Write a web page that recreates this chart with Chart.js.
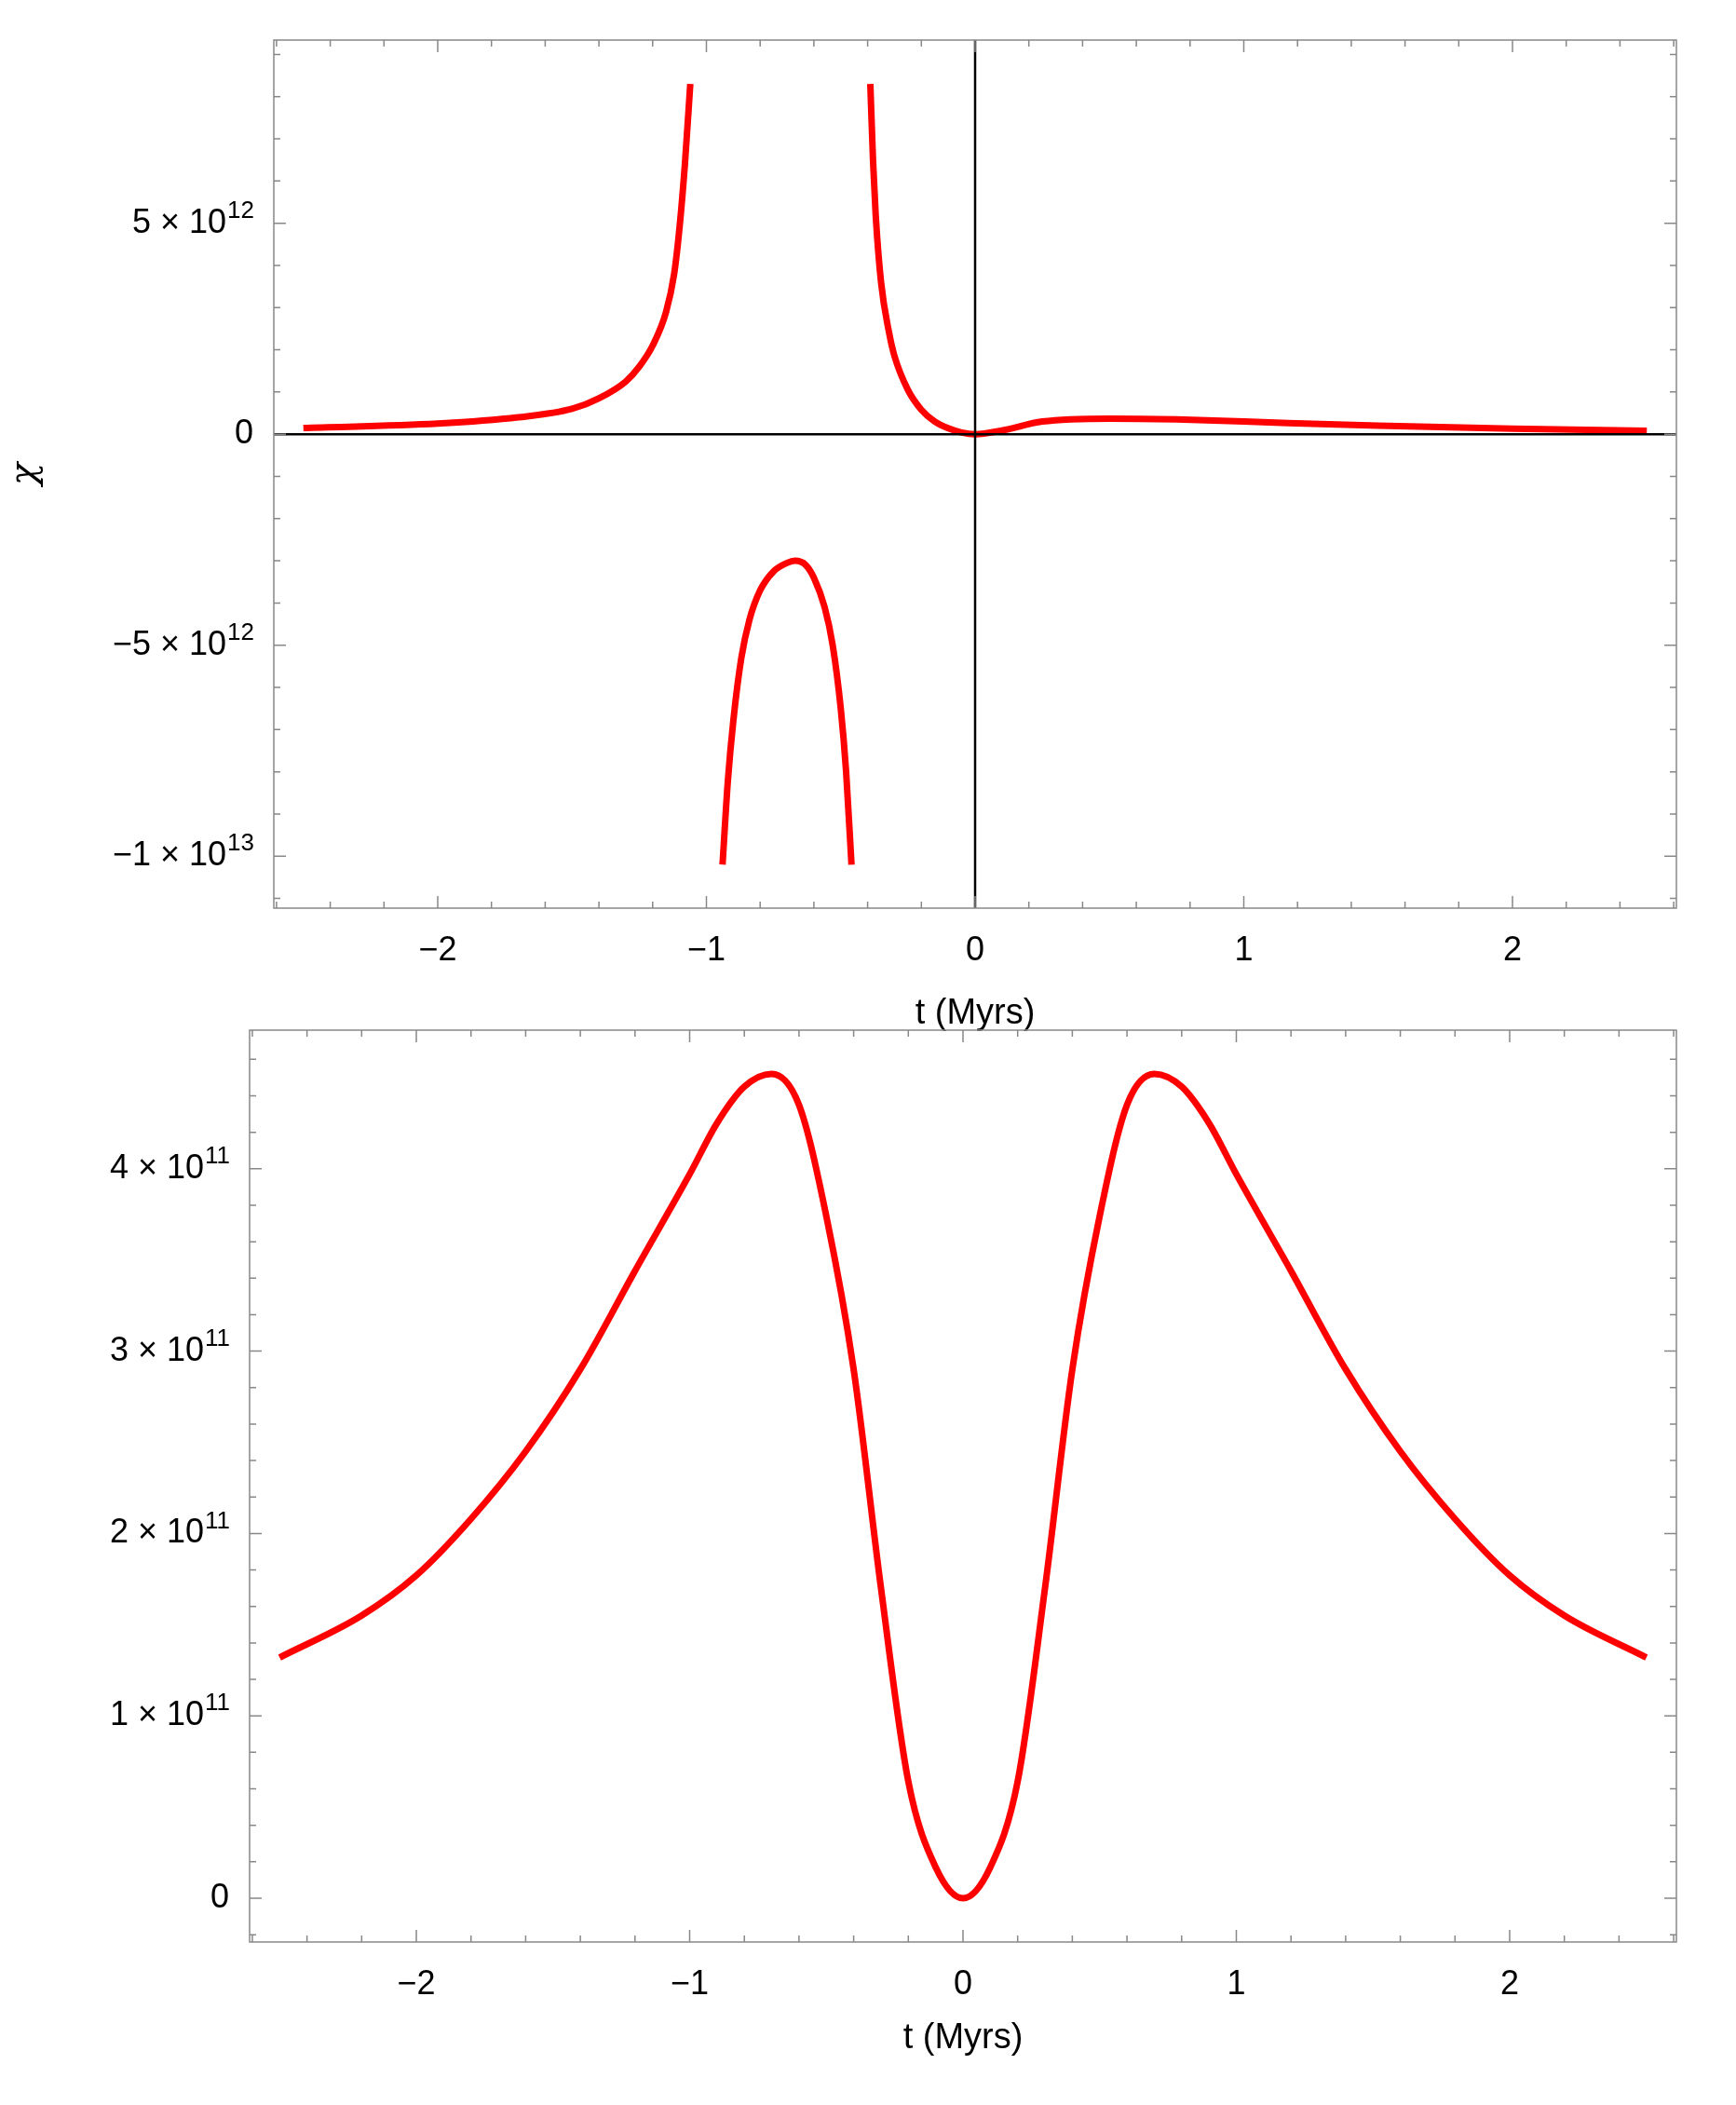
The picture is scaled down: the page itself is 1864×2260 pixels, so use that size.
<!DOCTYPE html>
<html>
<head>
<meta charset="utf-8">
<script src="https://cdn.jsdelivr.net/npm/chart.js@4.4.1/dist/chart.umd.min.js"></script>
<style>
  body { margin: 0; background: #fff; width: 1864px; height: 2260px; position: relative; }
  .box { position: absolute; left: 0; width: 1864px; }
</style>
</head>
<body>
<div class="box" style="top:0;height:1115px"><canvas id="top"></canvas></div>
<div class="box" style="top:1099px;height:1116px"><canvas id="bottom"></canvas></div>
<script>
// --- top panel: chi(t), three branches split by poles ---
const leftT   = [-2.5, -2.0, -1.7, -1.5, -1.4, -1.3, -1.25, -1.2, -1.15, -1.12, -1.1, -1.08, -1.06];
const leftChi = [0.15e12, 0.25e12, 0.4e12, 0.6e12, 0.85e12, 1.25e12, 1.6e12, 2.1e12, 2.9e12, 3.8e12, 4.9e12, 6.4e12, 8.3e12];
const midT    = [-0.94, -0.92, -0.9, -0.87, -0.84, -0.8, -0.75, -0.7, -0.67, -0.63, -0.6, -0.56, -0.53, -0.5, -0.48, -0.46];
const midChi  = [-10.2e12, -8.2e12, -6.8e12, -5.3e12, -4.4e12, -3.7e12, -3.25e12, -3.05e12, -3.0e12, -3.1e12, -3.4e12, -4.1e12, -5.0e12, -6.5e12, -8.0e12, -10.2e12];
const rightT  = [-0.39, -0.38, -0.37, -0.35, -0.32, -0.3, -0.25, -0.2, -0.15, -0.1, -0.05, 0, 0.1, 0.25, 0.5, 0.75, 1.0, 1.5, 2.0, 2.5];
const rightChi= [8.3e12, 6.5e12, 5.2e12, 3.6e12, 2.4e12, 1.85e12, 1.05e12, 0.58e12, 0.3e12, 0.14e12, 0.04e12, 0, 0.09e12, 0.3e12, 0.37e12, 0.35e12, 0.3e12, 0.2e12, 0.13e12, 0.08e12];

// --- bottom panel ---
const botT = [-2.5, -2.2, -2.0, -1.8, -1.6, -1.4, -1.2, -1.0, -0.9, -0.8, -0.7, -0.6, -0.5, -0.4, -0.3, -0.2, -0.1, 0,
              0.1, 0.2, 0.3, 0.4, 0.5, 0.6, 0.7, 0.8, 0.9, 1.0, 1.2, 1.4, 1.6, 1.8, 2.0, 2.2, 2.5];
const botY = [1.32e11, 1.55e11, 1.77e11, 2.08e11, 2.45e11, 2.9e11, 3.44e11, 3.97e11, 4.25e11, 4.45e11, 4.52e11, 4.35e11, 3.74e11, 2.9e11, 1.7e11, 0.64e11, 0.17e11, 0,
              0.17e11, 0.64e11, 1.7e11, 2.9e11, 3.74e11, 4.35e11, 4.52e11, 4.45e11, 4.25e11, 3.97e11, 3.44e11, 2.9e11, 2.45e11, 2.08e11, 1.77e11, 1.55e11, 1.32e11];

const xTicks = [-2, -1, 0, 1, 2];
// y tick labels as [mantissa, exponent]
const topYTicks = [-1e13, -5e12, 0, 5e12];
const topYLabels = [['\u22121 \u00d7 10', '13'], ['\u22125 \u00d7 10', '12'], ['0', ''], ['5 \u00d7 10', '12']];
const botYTicks = [0, 1e11, 2e11, 3e11, 4e11];
const botYLabels = [['0', ''], ['1 \u00d7 10', '11'], ['2 \u00d7 10', '11'], ['3 \u00d7 10', '11'], ['4 \u00d7 10', '11']];

const pts = (xs, ys) => xs.map((x, i) => ({ x: x, y: ys[i] }));
const FAM = 'Liberation Sans, Arial, sans-serif';
const font = { family: FAM, size: 36 };

function frameTicks(xMinor, yMinor, axes, yTicks, yLabels) {
  return {
    id: 'frameTicks',
    afterDatasetsDraw(chart) {
      const { ctx, chartArea: a, scales } = chart;
      const xs = scales.x, ys = scales.y;
      ctx.save();
      if (axes) {
        ctx.strokeStyle = '#000'; ctx.lineWidth = 2.5;
        const x0 = xs.getPixelForValue(0), y0 = ys.getPixelForValue(0);
        ctx.beginPath();
        ctx.moveTo(x0, a.top); ctx.lineTo(x0, a.bottom);
        ctx.moveTo(a.left, y0); ctx.lineTo(a.right, y0);
        ctx.stroke();
      }
      ctx.strokeStyle = '#888'; ctx.lineWidth = 1.5;
      ctx.strokeRect(a.left, a.top, a.right - a.left, a.bottom - a.top);
      ctx.beginPath();
      for (let i = Math.ceil(xs.min / xMinor); i * xMinor <= xs.max; i++) {
        const v = i * xMinor, p = xs.getPixelForValue(v);
        const len = Math.abs(v - Math.round(v)) < 1e-9 ? 13 : 7;
        ctx.moveTo(p, a.bottom); ctx.lineTo(p, a.bottom - len);
        ctx.moveTo(p, a.top); ctx.lineTo(p, a.top + len);
      }
      for (let i = Math.ceil(ys.min / yMinor); i * yMinor <= ys.max; i++) {
        const v = i * yMinor, p = ys.getPixelForValue(v);
        const len = (i % 5 === 0) ? 13 : 7;
        ctx.moveTo(a.left, p); ctx.lineTo(a.left + len, p);
        ctx.moveTo(a.right, p); ctx.lineTo(a.right - len, p);
      }
      ctx.stroke();
      // y tick labels with superscript exponents
      ctx.fillStyle = '#000'; ctx.textBaseline = 'middle'; ctx.textAlign = 'left';
      yTicks.forEach((v, i) => {
        const [m, e] = yLabels[i];
        const p = ys.getPixelForValue(v);
        ctx.font = '26px ' + FAM;
        const ew = e ? ctx.measureText(e).width : 0;
        ctx.font = '36px ' + FAM;
        const mw = ctx.measureText(m).width;
        const x = a.left - 22 - ew - mw;
        ctx.fillText(m, x, p);
        if (e) { ctx.font = '26px ' + FAM; ctx.fillText(e, x + mw + 1, p - 13); }
      });
      ctx.restore();
    }
  };
}

function makeChart(id, datasets, yMin, yMax, yTicks, yLabels, yTitle, leftW, xH, padTop, yMinor, axes) {
  const line = { borderColor: '#ff0000', borderWidth: 7, pointRadius: 0, fill: false, cubicInterpolationMode: 'monotone' };
  new Chart(document.getElementById(id), {
    type: 'line',
    data: { datasets: datasets.map(d => Object.assign({ data: d }, line)) },
    options: {
      responsive: true, maintainAspectRatio: false, animation: false,
      layout: { padding: { top: padTop, right: 64, left: 0, bottom: 0 } },
      plugins: { legend: { display: false }, tooltip: { enabled: false } },
      scales: {
        x: {
          type: 'linear', min: -2.61, max: 2.61,
          grid: { display: false }, border: { display: false },
          afterBuildTicks: s => { s.ticks = xTicks.map(v => ({ value: v })); },
          afterFit: s => { s.height = xH; },
          ticks: { font: font, color: '#000', padding: 16, maxRotation: 0,
                   callback: v => (v < 0 ? '\u2212' + Math.abs(v) : String(v)) },
          title: { display: true, text: 't (Myrs)', font: { family: FAM, size: 38 }, color: '#000', padding: { top: 10 } }
        },
        y: {
          type: 'linear', min: yMin, max: yMax,
          grid: { display: false }, border: { display: false },
          afterBuildTicks: s => { s.ticks = yTicks.map(v => ({ value: v })); },
          afterFit: s => { s.width = leftW; },
          ticks: { display: false },
          title: { display: !!yTitle, text: yTitle, font: { family: 'DejaVu Serif, serif', size: 40, style: 'italic' }, color: '#000' }
        }
      }
    },
    plugins: [frameTicks(0.2, yMinor, axes, yTicks, yLabels)]
  });
}

makeChart('top', [pts(leftT, leftChi), pts(midT, midChi), pts(rightT, rightChi)],
  -1.123e13, 9.34e12, topYTicks, topYLabels, '\u03c7', 294, 140, 43, 1e12, true);
makeChart('bottom', [pts(botT, botY)],
  -0.24e11, 4.76e11, botYTicks, botYLabels, '', 268, 130, 7, 0.2e11, false);
</script>
</body>
</html>
